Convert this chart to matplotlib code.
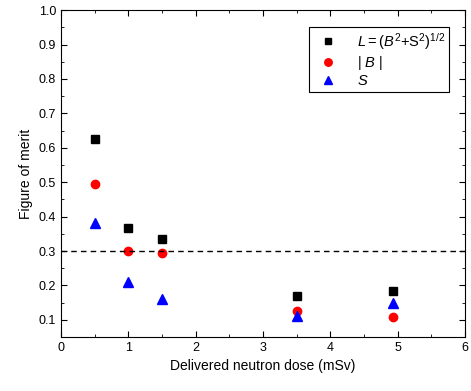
import matplotlib.pyplot as plt
import numpy as np

plt.rcParams['font.family'] = ['Liberation Sans', 'DejaVu Sans']
plt.rcParams['mathtext.fontset'] = 'custom'
plt.rcParams['mathtext.rm'] = 'Liberation Sans'
plt.rcParams['mathtext.it'] = 'Liberation Sans:italic'

# Дані
dose = [0.5, 1.0, 1.5, 3.5, 4.93]
L_vals = [0.625, 0.366, 0.335, 0.168, 0.185]
B_vals = [0.494, 0.300, 0.294, 0.126, 0.107]
S_vals = [0.380, 0.210, 0.160, 0.110, 0.150]

fig = plt.figure(figsize=(4.71, 3.91), dpi=100)
ax = fig.add_axes([0.1295, 0.138, 0.858, 0.836])

ax.plot(dose, L_vals, 's', color='black', markersize=5.5, label=r'$L = (B^2$+S$^2)^{1/2}$')
ax.plot(dose, B_vals, 'o', color='red', markersize=6, label=r'| $B$ |')
ax.plot(dose, S_vals, '^', color='blue', markersize=6.5, label=r'$S$')
ax.axhline(0.3, color='black', linestyle='--', linewidth=1, dashes=(4, 3))

ax.set_xlim(0, 6)
ax.set_ylim(0.05, 1.0)
ax.set_xticks(np.arange(0, 7, 1))
ax.set_xticks(np.arange(0, 6.01, 0.5), minor=True)
ax.set_yticks(np.arange(0.1, 1.01, 0.1))
ax.set_yticks(np.arange(0.05, 1.001, 0.05), minor=True)
ax.tick_params(which='both', direction='in', top=True, right=True, labelsize=9)
ax.tick_params(which='major', length=4)
ax.tick_params(which='minor', length=2)
ax.set_xlabel('Delivered neutron dose (mSv)', fontsize=10)
ax.set_ylabel('Figure of merit', fontsize=10)

leg = ax.legend(loc='upper right', bbox_to_anchor=(0.96, 0.948), borderaxespad=0,
                fontsize=10.5, fancybox=False, edgecolor='black', framealpha=1,
                handletextpad=1.0, borderpad=0.25, labelspacing=0.15,
                markerscale=0.9)
leg.get_frame().set_linewidth(0.8)

plt.savefig('out.png', dpi=100)
